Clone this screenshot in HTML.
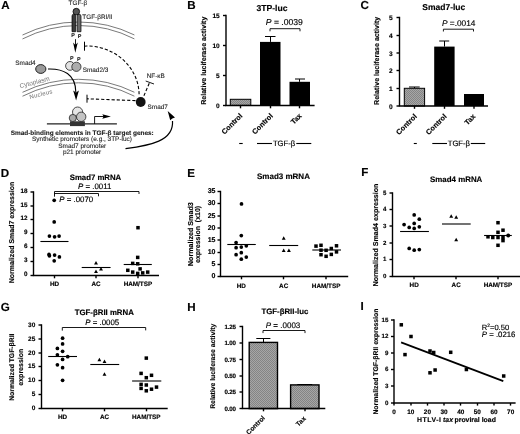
<!DOCTYPE html><html><head><meta charset="utf-8"><style>html,body{margin:0;padding:0;background:#fff;}svg{display:block;will-change:transform;font-family:"Liberation Sans",sans-serif;} text{stroke:#000;stroke-width:0.15px;} text[fill]{stroke:#8a8a8a;} .pa text{fill:#222;stroke:#222;stroke-width:0.1px;} .pa text[fill]{fill:#7a7a7a;stroke:#7a7a7a;stroke-width:0.2px;}</style></head><body>
<svg width="520" height="434" viewBox="0 0 520 434" font-family="Liberation Sans, sans-serif" text-rendering="geometricPrecision">
<defs><pattern id="hatch" width="2" height="2" patternUnits="userSpaceOnUse"><rect width="2" height="2" fill="#a6a6a6"/><rect width="1" height="1" fill="#848484"/><rect x="1" y="1" width="1" height="1" fill="#848484"/></pattern></defs>
<rect width="520" height="434" fill="#fff"/>
<text x="1.2" y="9.1" font-size="11.6" font-weight="bold" >A</text>
<text x="187.2" y="9.0" font-size="11.6" font-weight="bold" >B</text>
<text x="360.6" y="9.3" font-size="11.6" font-weight="bold" >C</text>
<text x="0.7" y="176.8" font-size="11.6" font-weight="bold" >D</text>
<text x="187.2" y="176.6" font-size="11.6" font-weight="bold" >E</text>
<text x="361.3" y="176.3" font-size="11.6" font-weight="bold" >F</text>
<text x="0.7" y="310.8" font-size="11.6" font-weight="bold" >G</text>
<text x="187.2" y="310.5" font-size="11.6" font-weight="bold" >H</text>
<text x="360.4" y="309.5" font-size="11.6" font-weight="bold" >I</text>
<g class="pa">
<path d="M22.5,35.01 A127.0,127.0 0 0 1 134.4,34.96" fill="none" stroke="#7a7a7a" stroke-width="1.0"/>
<path d="M22.5,38.93 A123.5,123.5 0 0 1 134.4,38.88" fill="none" stroke="#7a7a7a" stroke-width="1.0"/>
<path d="M22.5,92.31 A127.0,127.0 0 0 1 134.4,92.26" fill="none" stroke="#7a7a7a" stroke-width="1.0"/>
<path d="M22.5,96.23 A123.5,123.5 0 0 1 134.4,96.18" fill="none" stroke="#7a7a7a" stroke-width="1.0"/>
<path d="M72,31.7 V16 A1.8,1.8 0 0 1 75.6,16 V31.7 Z" fill="#3a3a3a" stroke="#000" stroke-width="0.7"/>
<path d="M77.1,31.7 V16.2 A1.95,1.95 0 0 1 81,16.2 V31.7 Z" fill="#6a6a6a" stroke="#000" stroke-width="0.7"/>
<circle cx="76.3" cy="11.6" r="3.3" fill="#555" stroke="#000" stroke-width="0.8"/>
<text x="68.6" y="5.2" font-size="6.4" >TGF-β</text>
<text x="82.3" y="18.5" font-size="6.4" >TGF-βRI/II</text>
<text x="71.2" y="36.9" font-size="5.4" font-weight="bold" >P</text>
<text x="77.8" y="37.6" font-size="5.4" font-weight="bold" >P</text>
<line x1="75.5" y1="39.2" x2="75.5" y2="45" stroke="#000" stroke-width="0.9" />
<path d="M73.1,42.6 L75.35,45 L77.8,42.6 L75.3,52.8 Z"/>
<line x1="84.5" y1="41.7" x2="84.5" y2="50.7" stroke="#000" stroke-width="1.0" />
<path d="M84.3,46.2 L86.7,46.0 A52.4,49 0 0 1 139.1,94.9" fill="none" stroke="#000" stroke-width="1.1" stroke-dasharray="3.2,2"/>
<text x="70" y="59.7" font-size="5.4" font-weight="bold" >P</text>
<text x="76.9" y="60.7" font-size="5.4" font-weight="bold" >P</text>
<circle cx="70" cy="65.9" r="4.4" fill="#e2e2e2" stroke="#222" stroke-width="0.8"/>
<circle cx="76.4" cy="66.8" r="4.6" fill="#acacac" stroke="#222" stroke-width="0.8"/>
<text x="82.7" y="71.8" font-size="6.4" >Smad2/3</text>
<text x="15.3" y="64.6" font-size="6.4" >Smad4</text>
<ellipse cx="40.8" cy="69" rx="5.1" ry="4.4" fill="#9a9a9a" stroke="#222" stroke-width="1"/>
<path d="M48,69 C63,68.5 75.6,74 75.8,92" fill="none" stroke="#000" stroke-width="1.1"/>
<path d="M73.2,90.6 L76,92.6 L78.9,90.6 L76.1,100.5 Z"/>
<text x="0" y="0" font-size="65" fill="#8a8a8a" transform="translate(20.3,88.2) rotate(-14.5) scale(0.1)">Cytoplasm</text>
<text x="0" y="0" font-size="60" letter-spacing="3" fill="#8a8a8a" transform="translate(29.9,98.9) rotate(-14) scale(0.1)">Nucleus</text>
<circle cx="140.7" cy="102" r="4.9" fill="#111"/>
<text x="147.6" y="108.7" font-size="6.4" >Smad7</text>
<text x="146.7" y="77.8" font-size="6.4" >NF-κB</text>
<path d="M143.9,95.8 L149.6,82.5" fill="none" stroke="#000" stroke-width="1.1" stroke-dasharray="3.2,2"/>
<line x1="145.7" y1="81.0" x2="154" y2="84.0" stroke="#000" stroke-width="0.9" />
<path d="M135.5,100.6 L87,98.8" fill="none" stroke="#000" stroke-width="1.1" stroke-dasharray="3.2,2"/>
<line x1="87.0" y1="94.7" x2="87.0" y2="102.7" stroke="#000" stroke-width="1.0" />
<line x1="46.9" y1="123.9" x2="116.9" y2="123.9" stroke="#222" stroke-width="1.1" />
<rect x="70" y="121.3" width="14.9" height="4.8" fill="#333"/>
<circle cx="77.6" cy="112.1" r="5.1" fill="#e6e6e6" stroke="#222" stroke-width="0.8"/>
<circle cx="72.8" cy="118" r="3.6" fill="#aaa" stroke="#222" stroke-width="0.8"/>
<circle cx="81.2" cy="116.8" r="4.7" fill="#c4c4c4" stroke="#222" stroke-width="0.8"/>
<path d="M94.6,123.9 V116.5 H104" fill="none" stroke="#000" stroke-width="0.9"/>
<path d="M102.3,114.2 L110.9,116.5 L102.3,118.8 L103.6,116.5 Z"/>
<text x="82.2" y="135.2" font-size="6.45" font-weight="bold" text-anchor="middle" >Smad-binding elements in TGF-β target genes:</text>
<text x="82" y="141.3" font-size="6.45" text-anchor="middle" >Synthetic promoters (e.g., 3TP-luc)</text>
<text x="82.2" y="147.5" font-size="6.45" text-anchor="middle" >Smad7 promoter</text>
<text x="82.1" y="153.6" font-size="6.45" text-anchor="middle" >p21 promoter</text>
<path d="M125.5,148.7 C150,145.5 174,141 172.5,121" fill="none" stroke="#000" stroke-width="1.2"/>
<path d="M167.7,111.1 L175,117.5 L172.3,118.5 L170.2,120.2 Z"/>
</g>
<text x="256.5" y="11.1" font-size="8.6" font-weight="bold" >3TP-luc</text>
<text x="265.8" y="25.3" font-size="8.6"><tspan font-style="italic">P</tspan> = .0039</text>
<path d="M270,31.3 V28.7 H300 V31.3" fill="none" stroke="#000" stroke-width="0.9"/>
<line x1="226.0" y1="14.8" x2="226.0" y2="105.5" stroke="#000" stroke-width="1.4" />
<line x1="223.0" y1="15.5" x2="226.0" y2="15.5" stroke="#000" stroke-width="1.4" />
<text x="219.7" y="18.07" font-size="6.5" font-weight="bold" text-anchor="end" >15</text>
<line x1="223.0" y1="45.5" x2="226.0" y2="45.5" stroke="#000" stroke-width="1.4" />
<text x="219.7" y="48.07" font-size="6.5" font-weight="bold" text-anchor="end" >10</text>
<line x1="223.0" y1="75.5" x2="226.0" y2="75.5" stroke="#000" stroke-width="1.4" />
<text x="219.7" y="78.08" font-size="6.5" font-weight="bold" text-anchor="end" >5</text>
<line x1="223.0" y1="105.5" x2="226.0" y2="105.5" stroke="#000" stroke-width="1.4" />
<text x="219.7" y="108.08" font-size="6.5" font-weight="bold" text-anchor="end" >0</text>
<rect x="230.3" y="99.3" width="20.5" height="6.1" fill="url(#hatch)" stroke="#000" stroke-width="1"/>
<rect x="260" y="41.9" width="20.5" height="63.5" fill="#000"/>
<line x1="270.5" y1="41.9" x2="270.5" y2="36.5" stroke="#000" stroke-width="1.0" />
<line x1="265" y1="36.5" x2="275.5" y2="36.5" stroke="#000" stroke-width="1.0" />
<rect x="289.5" y="81.8" width="20.5" height="23.6" fill="#000"/>
<line x1="299.5" y1="81.8" x2="299.5" y2="79.1" stroke="#000" stroke-width="1.0" />
<line x1="295" y1="79.0" x2="305" y2="79.0" stroke="#000" stroke-width="1.0" />
<line x1="225.3" y1="105.5" x2="314.6" y2="105.5" stroke="#000" stroke-width="1.4" />
<line x1="240.5" y1="105.5" x2="240.5" y2="108.3" stroke="#000" stroke-width="1.4" />
<line x1="270.5" y1="105.5" x2="270.5" y2="108.3" stroke="#000" stroke-width="1.4" />
<line x1="299.5" y1="105.5" x2="299.5" y2="108.3" stroke="#000" stroke-width="1.4" />
<text x="0" y="0" font-size="7.05" font-weight="bold" text-anchor="middle" transform="translate(206.3,60.7) rotate(-90)">Relative luciferase activity</text>
<text x="0" y="0" font-size="7.3" font-weight="bold" text-anchor="end" transform="translate(242.9,116.3) rotate(-45)">Control</text>
<text x="0" y="0" font-size="7.3" font-weight="bold" text-anchor="end" transform="translate(273.4,116.3) rotate(-45)">Control</text>
<text x="0" y="0" font-size="7.3" font-weight="bold" text-anchor="end" transform="translate(302.2,116.3) rotate(-45)">Tax</text>
<line x1="239.2" y1="143.5" x2="242.7" y2="143.5" stroke="#000" stroke-width="1.1" />
<line x1="257" y1="143.5" x2="272" y2="143.5" stroke="#000" stroke-width="1.1" />
<text x="272.9" y="145.6" font-size="7.7" >TGF-β</text>
<line x1="296.3" y1="143.5" x2="311.3" y2="143.5" stroke="#000" stroke-width="1.1" />
<text x="422.3" y="9.9" font-size="8.5" font-weight="bold" >Smad7-luc</text>
<text x="442" y="26.2" font-size="8.3"><tspan font-style="italic">P</tspan> =.0014</text>
<path d="M443.4,31.5 V29.2 H473.5 V31.5" fill="none" stroke="#000" stroke-width="0.9"/>
<line x1="399.5" y1="16.8" x2="399.5" y2="106.0" stroke="#000" stroke-width="1.4" />
<line x1="396.5" y1="17.5" x2="399.5" y2="17.5" stroke="#000" stroke-width="1.4" />
<text x="392.7" y="20.01" font-size="6.6" font-weight="bold" text-anchor="end" >5</text>
<line x1="396.5" y1="35.5" x2="399.5" y2="35.5" stroke="#000" stroke-width="1.4" />
<text x="392.7" y="38.01" font-size="6.6" font-weight="bold" text-anchor="end" >4</text>
<line x1="396.5" y1="53.0" x2="399.5" y2="53.0" stroke="#000" stroke-width="1.4" />
<text x="392.7" y="55.51" font-size="6.6" font-weight="bold" text-anchor="end" >3</text>
<line x1="396.5" y1="70.5" x2="399.5" y2="70.5" stroke="#000" stroke-width="1.4" />
<text x="392.7" y="73.01" font-size="6.6" font-weight="bold" text-anchor="end" >2</text>
<line x1="396.5" y1="88.5" x2="399.5" y2="88.5" stroke="#000" stroke-width="1.4" />
<text x="392.7" y="91.01" font-size="6.6" font-weight="bold" text-anchor="end" >1</text>
<line x1="396.5" y1="106.0" x2="399.5" y2="106.0" stroke="#000" stroke-width="1.4" />
<text x="392.7" y="108.51" font-size="6.6" font-weight="bold" text-anchor="end" >0</text>
<rect x="404.3" y="88.3" width="20.3" height="17.7" fill="url(#hatch)" stroke="#000" stroke-width="1"/>
<line x1="414.5" y1="88" x2="414.5" y2="87" stroke="#000" stroke-width="1.0" />
<line x1="409" y1="87.0" x2="419.7" y2="87.0" stroke="#000" stroke-width="1.0" />
<rect x="434.2" y="46.6" width="20.4" height="59.4" fill="#000"/>
<line x1="444.5" y1="46.6" x2="444.5" y2="41" stroke="#000" stroke-width="1.0" />
<line x1="439.2" y1="41.0" x2="449.2" y2="41.0" stroke="#000" stroke-width="1.0" />
<rect x="464" y="94" width="20" height="12" fill="#000"/>
<line x1="398.8" y1="106.0" x2="488" y2="106.0" stroke="#000" stroke-width="1.4" />
<line x1="414.5" y1="106.0" x2="414.5" y2="108.8" stroke="#000" stroke-width="1.4" />
<line x1="444.5" y1="106.0" x2="444.5" y2="108.8" stroke="#000" stroke-width="1.4" />
<line x1="474.0" y1="106.0" x2="474.0" y2="108.8" stroke="#000" stroke-width="1.4" />
<text x="0" y="0" font-size="7.05" font-weight="bold" text-anchor="middle" transform="translate(379.0,60.9) rotate(-90)">Relative luciferase activity</text>
<text x="0" y="0" font-size="7.3" font-weight="bold" text-anchor="end" transform="translate(417.4,116.9) rotate(-45)">Control</text>
<text x="0" y="0" font-size="7.3" font-weight="bold" text-anchor="end" transform="translate(447.2,116.9) rotate(-45)">Control</text>
<text x="0" y="0" font-size="7.3" font-weight="bold" text-anchor="end" transform="translate(476,116.9) rotate(-45)">Tax</text>
<line x1="413.8" y1="143.5" x2="416.8" y2="143.5" stroke="#000" stroke-width="1.1" />
<line x1="432.3" y1="143.5" x2="447" y2="143.5" stroke="#000" stroke-width="1.1" />
<text x="447.7" y="145.6" font-size="7.7" >TGF-β</text>
<line x1="470.8" y1="143.5" x2="485.2" y2="143.5" stroke="#000" stroke-width="1.1" />
<text x="69.7" y="180" font-size="7.8" font-weight="bold" >Smad7 mRNA</text>
<text x="78" y="188.5" font-size="7.9"><tspan font-style="italic">P</tspan> = .0011</text>
<path d="M54.5,194.3 V191.5 H139 V194" fill="none" stroke="#000" stroke-width="0.9"/>
<path d="M54.5,196.7 V193.5 H98.5 V196.3" fill="none" stroke="#000" stroke-width="0.9"/>
<text x="59.2" y="201.5" font-size="7.9"><tspan font-style="italic">P</tspan> = .0070</text>
<line x1="33.5" y1="191.3" x2="33.5" y2="275.5" stroke="#000" stroke-width="1.4" />
<line x1="30.5" y1="192.0" x2="33.5" y2="192.0" stroke="#000" stroke-width="1.4" />
<text x="27.4" y="192.91" font-size="6.3" font-weight="bold" text-anchor="end" >18</text>
<line x1="30.5" y1="206.0" x2="33.5" y2="206.0" stroke="#000" stroke-width="1.4" />
<text x="27.4" y="206.91" font-size="6.3" font-weight="bold" text-anchor="end" >15</text>
<line x1="30.5" y1="219.5" x2="33.5" y2="219.5" stroke="#000" stroke-width="1.4" />
<text x="27.4" y="220.41" font-size="6.3" font-weight="bold" text-anchor="end" >12</text>
<line x1="30.5" y1="233.5" x2="33.5" y2="233.5" stroke="#000" stroke-width="1.4" />
<text x="27.4" y="234.41" font-size="6.3" font-weight="bold" text-anchor="end" >9</text>
<line x1="30.5" y1="247.5" x2="33.5" y2="247.5" stroke="#000" stroke-width="1.4" />
<text x="27.4" y="248.41" font-size="6.3" font-weight="bold" text-anchor="end" >6</text>
<line x1="30.5" y1="261.5" x2="33.5" y2="261.5" stroke="#000" stroke-width="1.4" />
<text x="27.4" y="262.4" font-size="6.3" font-weight="bold" text-anchor="end" >3</text>
<line x1="30.5" y1="275.5" x2="33.5" y2="275.5" stroke="#000" stroke-width="1.4" />
<text x="27.4" y="276.4" font-size="6.3" font-weight="bold" text-anchor="end" >0</text>
<line x1="32.8" y1="275.5" x2="159" y2="275.5" stroke="#000" stroke-width="1.4" />
<line x1="54.5" y1="275.5" x2="54.5" y2="278.3" stroke="#000" stroke-width="1.4" />
<line x1="96.0" y1="275.5" x2="96.0" y2="278.3" stroke="#000" stroke-width="1.4" />
<line x1="138.0" y1="275.5" x2="138.0" y2="278.3" stroke="#000" stroke-width="1.4" />
<circle cx="54.2" cy="200.3" r="1.85"/>
<circle cx="54.2" cy="221.9" r="1.85"/>
<circle cx="49.4" cy="236.1" r="1.85"/>
<circle cx="54.6" cy="236.8" r="1.85"/>
<circle cx="59.1" cy="236.1" r="1.85"/>
<circle cx="49" cy="254.4" r="1.85"/>
<circle cx="49.4" cy="255.8" r="1.85"/>
<circle cx="54.6" cy="255.1" r="1.85"/>
<circle cx="59.4" cy="256.9" r="1.85"/>
<circle cx="54.2" cy="260.8" r="1.85"/>
<line x1="40.4" y1="241.5" x2="68.5" y2="241.5" stroke="#000" stroke-width="1.1" />
<path d="M94.05,264.45L97.95,264.45L96.00,260.94Z"/>
<path d="M99.05,270.56L102.95,270.56L101.00,267.05Z"/>
<path d="M94.05,273.06L97.95,273.06L96.00,269.55Z"/>
<line x1="81.7" y1="267.5" x2="110.6" y2="267.5" stroke="#000" stroke-width="1.1" />
<rect x="136.25" y="225.95" width="3.5" height="3.5"/>
<rect x="135.95" y="255.65" width="3.5" height="3.5"/>
<rect x="130.95" y="261.65" width="3.5" height="3.5"/>
<rect x="135.95" y="262.05" width="3.5" height="3.5"/>
<rect x="126.05" y="268.55" width="3.5" height="3.5"/>
<rect x="130.95" y="270.35" width="3.5" height="3.5"/>
<rect x="138.35" y="267.15" width="3.5" height="3.5"/>
<rect x="135.95" y="271.65" width="3.5" height="3.5"/>
<rect x="140.95" y="271.15" width="3.5" height="3.5"/>
<rect x="145.95" y="270.35" width="3.5" height="3.5"/>
<line x1="123.7" y1="264.5" x2="151.8" y2="264.5" stroke="#000" stroke-width="1.1" />
<text x="54.5" y="286" font-size="6.35" font-weight="bold" text-anchor="middle" >HD</text>
<text x="96" y="286" font-size="6.35" font-weight="bold" text-anchor="middle" >AC</text>
<text x="137.9" y="286" font-size="6.35" font-weight="bold" text-anchor="middle" >HAM/TSP</text>
<text x="0" y="0" font-size="7" font-weight="bold" text-anchor="middle" transform="translate(14.3,232.5) rotate(-90)">Normalized Smad7 expression</text>
<text x="257" y="179.1" font-size="8" font-weight="bold" >Smad3 mRNA</text>
<line x1="220.5" y1="190.8" x2="220.5" y2="276.5" stroke="#000" stroke-width="1.4" />
<line x1="217.5" y1="191.5" x2="220.5" y2="191.5" stroke="#000" stroke-width="1.4" />
<text x="215.5" y="193.45" font-size="7.0" font-weight="bold" text-anchor="end" >35</text>
<line x1="217.5" y1="203.5" x2="220.5" y2="203.5" stroke="#000" stroke-width="1.4" />
<text x="215.5" y="205.45" font-size="7.0" font-weight="bold" text-anchor="end" >30</text>
<line x1="217.5" y1="216.0" x2="220.5" y2="216.0" stroke="#000" stroke-width="1.4" />
<text x="215.5" y="217.95" font-size="7.0" font-weight="bold" text-anchor="end" >25</text>
<line x1="217.5" y1="228.0" x2="220.5" y2="228.0" stroke="#000" stroke-width="1.4" />
<text x="215.5" y="229.95" font-size="7.0" font-weight="bold" text-anchor="end" >20</text>
<line x1="217.5" y1="240.0" x2="220.5" y2="240.0" stroke="#000" stroke-width="1.4" />
<text x="215.5" y="241.95" font-size="7.0" font-weight="bold" text-anchor="end" >15</text>
<line x1="217.5" y1="252.5" x2="220.5" y2="252.5" stroke="#000" stroke-width="1.4" />
<text x="215.5" y="254.45" font-size="7.0" font-weight="bold" text-anchor="end" >10</text>
<line x1="217.5" y1="264.5" x2="220.5" y2="264.5" stroke="#000" stroke-width="1.4" />
<text x="215.5" y="266.45" font-size="7.0" font-weight="bold" text-anchor="end" >5</text>
<line x1="217.5" y1="276.5" x2="220.5" y2="276.5" stroke="#000" stroke-width="1.4" />
<text x="215.5" y="278.45" font-size="7.0" font-weight="bold" text-anchor="end" >0</text>
<line x1="219.8" y1="276.5" x2="348.2" y2="276.5" stroke="#000" stroke-width="1.4" />
<line x1="241.5" y1="276.5" x2="241.5" y2="279.3" stroke="#000" stroke-width="1.4" />
<line x1="283.5" y1="276.5" x2="283.5" y2="279.3" stroke="#000" stroke-width="1.4" />
<line x1="326.0" y1="276.5" x2="326.0" y2="279.3" stroke="#000" stroke-width="1.4" />
<circle cx="241.5" cy="203.9" r="1.85"/>
<circle cx="241.3" cy="235.6" r="1.85"/>
<circle cx="236.1" cy="242.6" r="1.85"/>
<circle cx="241.3" cy="247.1" r="1.85"/>
<circle cx="236.1" cy="247.7" r="1.85"/>
<circle cx="246.3" cy="245.8" r="1.85"/>
<circle cx="241.3" cy="252.7" r="1.85"/>
<circle cx="236.1" cy="254.7" r="1.85"/>
<circle cx="246.3" cy="257.1" r="1.85"/>
<circle cx="241.3" cy="259.2" r="1.85"/>
<line x1="227.3" y1="244.5" x2="255.8" y2="244.5" stroke="#000" stroke-width="1.1" />
<path d="M281.75,239.85L285.65,239.85L283.70,236.34Z"/>
<path d="M281.75,251.95L285.65,251.95L283.70,248.44Z"/>
<path d="M286.95,251.95L290.85,251.95L288.90,248.44Z"/>
<line x1="269.2" y1="245.5" x2="298.2" y2="245.5" stroke="#000" stroke-width="1.1" />
<rect x="314.25" y="244.35" width="3.5" height="3.5"/>
<rect x="319.25" y="243.55" width="3.5" height="3.5"/>
<rect x="319.25" y="248.45" width="3.5" height="3.5"/>
<rect x="324.35" y="248.55" width="3.5" height="3.5"/>
<rect x="329.55" y="246.75" width="3.5" height="3.5"/>
<rect x="334.75" y="244.05" width="3.5" height="3.5"/>
<rect x="334.75" y="250.15" width="3.5" height="3.5"/>
<rect x="319.25" y="252.95" width="3.5" height="3.5"/>
<rect x="324.35" y="254.55" width="3.5" height="3.5"/>
<rect x="329.55" y="252.65" width="3.5" height="3.5"/>
<line x1="312.3" y1="250.0" x2="341" y2="250.0" stroke="#000" stroke-width="1.1" />
<text x="241.3" y="287.7" font-size="6.35" font-weight="bold" text-anchor="middle" >HD</text>
<text x="283.7" y="287.7" font-size="6.35" font-weight="bold" text-anchor="middle" >AC</text>
<text x="326.1" y="287.7" font-size="6.35" font-weight="bold" text-anchor="middle" >HAM/TSP</text>
<text x="0" y="0" font-size="7.15" font-weight="bold" text-anchor="middle" transform="translate(193.4,234.2) rotate(-90)">Normalized Smad3</text>
<text x="0" y="0" font-size="7" font-weight="bold" text-anchor="middle" transform="translate(199.7,234.4) rotate(-90)">expression&#160;&#160;(x10)</text>
<text x="430.1" y="181.8" font-size="7.9" font-weight="bold" >Smad4 mRNA</text>
<line x1="392.5" y1="192.3" x2="392.5" y2="276.5" stroke="#000" stroke-width="1.4" />
<line x1="389.5" y1="193.0" x2="392.5" y2="193.0" stroke="#000" stroke-width="1.4" />
<text x="386.4" y="194.83" font-size="6.1" font-weight="bold" text-anchor="end" >5</text>
<line x1="389.5" y1="209.5" x2="392.5" y2="209.5" stroke="#000" stroke-width="1.4" />
<text x="386.4" y="211.33" font-size="6.1" font-weight="bold" text-anchor="end" >4</text>
<line x1="389.5" y1="226.0" x2="392.5" y2="226.0" stroke="#000" stroke-width="1.4" />
<text x="386.4" y="227.83" font-size="6.1" font-weight="bold" text-anchor="end" >3</text>
<line x1="389.5" y1="243.0" x2="392.5" y2="243.0" stroke="#000" stroke-width="1.4" />
<text x="386.4" y="244.83" font-size="6.1" font-weight="bold" text-anchor="end" >2</text>
<line x1="389.5" y1="259.5" x2="392.5" y2="259.5" stroke="#000" stroke-width="1.4" />
<text x="386.4" y="261.33" font-size="6.1" font-weight="bold" text-anchor="end" >1</text>
<line x1="389.5" y1="276.5" x2="392.5" y2="276.5" stroke="#000" stroke-width="1.4" />
<text x="386.4" y="278.33" font-size="6.1" font-weight="bold" text-anchor="end" >0</text>
<line x1="391.8" y1="276.5" x2="520" y2="276.5" stroke="#000" stroke-width="1.4" />
<line x1="414.0" y1="276.5" x2="414.0" y2="279.3" stroke="#000" stroke-width="1.4" />
<line x1="456.0" y1="276.5" x2="456.0" y2="279.3" stroke="#000" stroke-width="1.4" />
<line x1="498.0" y1="276.5" x2="498.0" y2="279.3" stroke="#000" stroke-width="1.4" />
<circle cx="414.2" cy="214.9" r="1.85"/>
<circle cx="419.3" cy="219.2" r="1.85"/>
<circle cx="404.1" cy="224.6" r="1.85"/>
<circle cx="414.2" cy="223.4" r="1.85"/>
<circle cx="409.2" cy="227.4" r="1.85"/>
<circle cx="419.3" cy="226.8" r="1.85"/>
<circle cx="414.2" cy="228.4" r="1.85"/>
<circle cx="409.2" cy="248.4" r="1.85"/>
<circle cx="414.2" cy="250.2" r="1.85"/>
<circle cx="419.3" cy="249.6" r="1.85"/>
<line x1="400.1" y1="231.5" x2="428.9" y2="231.5" stroke="#000" stroke-width="1.1" />
<path d="M449.25,217.75L453.15,217.75L451.20,214.25Z"/>
<path d="M454.25,218.75L458.15,218.75L456.20,215.25Z"/>
<path d="M454.25,241.16L458.15,241.16L456.20,237.65Z"/>
<line x1="442" y1="224.0" x2="470.7" y2="224.0" stroke="#000" stroke-width="1.1" />
<rect x="496.25" y="220.95" width="3.5" height="3.5"/>
<rect x="501.25" y="228.45" width="3.5" height="3.5"/>
<rect x="496.25" y="230.55" width="3.5" height="3.5"/>
<rect x="486.25" y="235.05" width="3.5" height="3.5"/>
<rect x="491.05" y="235.75" width="3.5" height="3.5"/>
<rect x="496.25" y="235.75" width="3.5" height="3.5"/>
<rect x="501.25" y="235.75" width="3.5" height="3.5"/>
<rect x="501.25" y="238.85" width="3.5" height="3.5"/>
<rect x="496.25" y="243.55" width="3.5" height="3.5"/>
<circle cx="508.2" cy="235.4" r="2.0"/>
<line x1="484.1" y1="235.5" x2="511.8" y2="235.5" stroke="#000" stroke-width="1.1" />
<text x="414.2" y="287.1" font-size="6.35" font-weight="bold" text-anchor="middle" >HD</text>
<text x="456.2" y="287.1" font-size="6.35" font-weight="bold" text-anchor="middle" >AC</text>
<text x="497.9" y="287.1" font-size="6.35" font-weight="bold" text-anchor="middle" >HAM/TSP</text>
<text x="0" y="0" font-size="7.1" font-weight="bold" text-anchor="middle" transform="translate(377.6,235.0) rotate(-90)">Normalized Smad4 expression</text>
<text x="74.7" y="314.5" font-size="7.84" font-weight="bold" >TGF-βRII mRNA</text>
<text x="85.2" y="325" font-size="7.9"><tspan font-style="italic">P</tspan> = .0005</text>
<path d="M62.3,330.6 V327.5 H145.7 V330.4" fill="none" stroke="#000" stroke-width="0.9"/>
<line x1="41.5" y1="324.3" x2="41.5" y2="408.5" stroke="#000" stroke-width="1.4" />
<line x1="38.5" y1="325.0" x2="41.5" y2="325.0" stroke="#000" stroke-width="1.4" />
<text x="35.3" y="326.88" font-size="6.5" font-weight="bold" text-anchor="end" >30</text>
<line x1="38.5" y1="339.0" x2="41.5" y2="339.0" stroke="#000" stroke-width="1.4" />
<text x="35.3" y="340.88" font-size="6.5" font-weight="bold" text-anchor="end" >25</text>
<line x1="38.5" y1="353.0" x2="41.5" y2="353.0" stroke="#000" stroke-width="1.4" />
<text x="35.3" y="354.88" font-size="6.5" font-weight="bold" text-anchor="end" >20</text>
<line x1="38.5" y1="366.5" x2="41.5" y2="366.5" stroke="#000" stroke-width="1.4" />
<text x="35.3" y="368.38" font-size="6.5" font-weight="bold" text-anchor="end" >15</text>
<line x1="38.5" y1="380.5" x2="41.5" y2="380.5" stroke="#000" stroke-width="1.4" />
<text x="35.3" y="382.38" font-size="6.5" font-weight="bold" text-anchor="end" >10</text>
<line x1="38.5" y1="394.5" x2="41.5" y2="394.5" stroke="#000" stroke-width="1.4" />
<text x="35.3" y="396.38" font-size="6.5" font-weight="bold" text-anchor="end" >5</text>
<line x1="38.5" y1="408.5" x2="41.5" y2="408.5" stroke="#000" stroke-width="1.4" />
<text x="35.3" y="410.38" font-size="6.5" font-weight="bold" text-anchor="end" >0</text>
<line x1="40.8" y1="408.5" x2="167.7" y2="408.5" stroke="#000" stroke-width="1.4" />
<line x1="62.5" y1="408.5" x2="62.5" y2="411.3" stroke="#000" stroke-width="1.4" />
<line x1="104.5" y1="408.5" x2="104.5" y2="411.3" stroke="#000" stroke-width="1.4" />
<line x1="146.5" y1="408.5" x2="146.5" y2="411.3" stroke="#000" stroke-width="1.4" />
<circle cx="62.6" cy="338.2" r="1.85"/>
<circle cx="62.6" cy="343.9" r="1.85"/>
<circle cx="57.4" cy="348.4" r="1.85"/>
<circle cx="62.6" cy="351.3" r="1.85"/>
<circle cx="57.4" cy="354.8" r="1.85"/>
<circle cx="67.7" cy="356.7" r="1.85"/>
<circle cx="62.6" cy="359.4" r="1.85"/>
<circle cx="57.4" cy="364.8" r="1.85"/>
<circle cx="62.6" cy="367.7" r="1.85"/>
<circle cx="62.6" cy="380.3" r="1.85"/>
<line x1="48.2" y1="356.5" x2="77" y2="356.5" stroke="#000" stroke-width="1.1" />
<path d="M97.45,361.15L101.35,361.15L99.40,357.64Z"/>
<path d="M102.55,363.06L106.45,363.06L104.50,359.55Z"/>
<path d="M102.55,375.65L106.45,375.65L104.50,372.14Z"/>
<line x1="90.3" y1="364.5" x2="119.2" y2="364.5" stroke="#000" stroke-width="1.1" />
<rect x="144.55" y="356.35" width="3.5" height="3.5"/>
<rect x="139.35" y="371.65" width="3.5" height="3.5"/>
<rect x="144.55" y="375.95" width="3.5" height="3.5"/>
<rect x="149.75" y="373.55" width="3.5" height="3.5"/>
<rect x="139.35" y="382.65" width="3.5" height="3.5"/>
<rect x="144.55" y="383.25" width="3.5" height="3.5"/>
<rect x="139.35" y="386.65" width="3.5" height="3.5"/>
<rect x="144.55" y="389.05" width="3.5" height="3.5"/>
<rect x="149.75" y="387.45" width="3.5" height="3.5"/>
<rect x="154.75" y="385.35" width="3.5" height="3.5"/>
<line x1="132.1" y1="381.0" x2="161.3" y2="381.0" stroke="#000" stroke-width="1.1" />
<text x="62.6" y="419.4" font-size="6.35" font-weight="bold" text-anchor="middle" >HD</text>
<text x="104.5" y="419.4" font-size="6.35" font-weight="bold" text-anchor="middle" >AC</text>
<text x="146.3" y="419.4" font-size="6.35" font-weight="bold" text-anchor="middle" >HAM/TSP</text>
<text x="0" y="0" font-size="6.8" font-weight="bold" text-anchor="middle" transform="translate(13.9,367.2) rotate(-90)">Normalized TGF-βRII</text>
<text x="0" y="0" font-size="7" font-weight="bold" text-anchor="middle" transform="translate(23.1,367.2) rotate(-90)">expression</text>
<text x="261.5" y="313.8" font-size="7.8" font-weight="bold" >TGF-βRII-luc</text>
<text x="265.8" y="327.7" font-size="8.0"><tspan font-style="italic">P</tspan> = .0003</text>
<path d="M263,333.1 V330.5 H305 V333.1" fill="none" stroke="#000" stroke-width="0.9"/>
<line x1="242.5" y1="325.8" x2="242.5" y2="408.5" stroke="#000" stroke-width="1.4" />
<line x1="239.5" y1="326.5" x2="242.5" y2="326.5" stroke="#000" stroke-width="1.4" />
<text x="235.9" y="328.87" font-size="6.2" font-weight="bold" text-anchor="end" letter-spacing="-0.15">1.25</text>
<line x1="239.5" y1="343.0" x2="242.5" y2="343.0" stroke="#000" stroke-width="1.4" />
<text x="235.9" y="345.37" font-size="6.2" font-weight="bold" text-anchor="end" letter-spacing="-0.15">1.00</text>
<line x1="239.5" y1="359.5" x2="242.5" y2="359.5" stroke="#000" stroke-width="1.4" />
<text x="235.9" y="361.87" font-size="6.2" font-weight="bold" text-anchor="end" letter-spacing="-0.15">0.75</text>
<line x1="239.5" y1="376.0" x2="242.5" y2="376.0" stroke="#000" stroke-width="1.4" />
<text x="235.9" y="378.37" font-size="6.2" font-weight="bold" text-anchor="end" letter-spacing="-0.15">0.50</text>
<line x1="239.5" y1="392.0" x2="242.5" y2="392.0" stroke="#000" stroke-width="1.4" />
<text x="235.9" y="394.37" font-size="6.2" font-weight="bold" text-anchor="end" letter-spacing="-0.15">0.25</text>
<line x1="239.5" y1="408.5" x2="242.5" y2="408.5" stroke="#000" stroke-width="1.4" />
<text x="235.9" y="410.87" font-size="6.2" font-weight="bold" text-anchor="end" letter-spacing="-0.15">0.00</text>
<rect x="249.2" y="342.4" width="28.3" height="66.2" fill="url(#hatch)" stroke="#000" stroke-width="1.4"/>
<line x1="263.5" y1="342.4" x2="263.5" y2="338.6" stroke="#000" stroke-width="1.0" />
<line x1="256.3" y1="338.5" x2="270.4" y2="338.5" stroke="#000" stroke-width="1.0" />
<rect x="290.6" y="384.9" width="28.4" height="23.7" fill="url(#hatch)" stroke="#000" stroke-width="1.4"/>
<line x1="297.3" y1="384.5" x2="312.2" y2="384.5" stroke="#000" stroke-width="1.0" />
<line x1="241.8" y1="408.5" x2="325.3" y2="408.5" stroke="#000" stroke-width="1.4" />
<line x1="263.5" y1="408.5" x2="263.5" y2="411.3" stroke="#000" stroke-width="1.4" />
<line x1="305.0" y1="408.5" x2="305.0" y2="411.3" stroke="#000" stroke-width="1.4" />
<text x="0" y="0" font-size="6.8" font-weight="bold" text-anchor="middle" transform="translate(214.6,366.3) rotate(-90)">Relative luciferase activity</text>
<text x="0" y="0" font-size="6.6" font-weight="bold" text-anchor="end" transform="translate(265.4,418.4) rotate(-45)">Control</text>
<text x="0" y="0" font-size="6.6" font-weight="bold" text-anchor="end" transform="translate(306.3,419.0) rotate(-45)">Tax</text>
<line x1="394.0" y1="319.3" x2="394.0" y2="403.0" stroke="#000" stroke-width="1.4" />
<line x1="391.0" y1="320.0" x2="394.0" y2="320.0" stroke="#000" stroke-width="1.4" />
<text x="388.4" y="321.57" font-size="6.2" font-weight="bold" text-anchor="end" >15</text>
<line x1="391.0" y1="336.5" x2="394.0" y2="336.5" stroke="#000" stroke-width="1.4" />
<text x="388.4" y="338.07" font-size="6.2" font-weight="bold" text-anchor="end" >12</text>
<line x1="391.0" y1="353.0" x2="394.0" y2="353.0" stroke="#000" stroke-width="1.4" />
<text x="388.4" y="354.57" font-size="6.2" font-weight="bold" text-anchor="end" >9</text>
<line x1="391.0" y1="369.5" x2="394.0" y2="369.5" stroke="#000" stroke-width="1.4" />
<text x="388.4" y="371.07" font-size="6.2" font-weight="bold" text-anchor="end" >6</text>
<line x1="391.0" y1="386.0" x2="394.0" y2="386.0" stroke="#000" stroke-width="1.4" />
<text x="388.4" y="387.57" font-size="6.2" font-weight="bold" text-anchor="end" >3</text>
<line x1="391.0" y1="403.0" x2="394.0" y2="403.0" stroke="#000" stroke-width="1.4" />
<text x="388.4" y="404.57" font-size="6.2" font-weight="bold" text-anchor="end" >0</text>
<line x1="393.4" y1="403.0" x2="515.6" y2="403.0" stroke="#000" stroke-width="1.4" />
<line x1="394.0" y1="403.0" x2="394.0" y2="405.6" stroke="#000" stroke-width="1.4" />
<text x="394.1" y="413.6" font-size="6.4" font-weight="bold" text-anchor="middle" >0</text>
<line x1="411.0" y1="403.0" x2="411.0" y2="405.6" stroke="#000" stroke-width="1.4" />
<text x="410.75" y="413.6" font-size="6.4" font-weight="bold" text-anchor="middle" >10</text>
<line x1="427.5" y1="403.0" x2="427.5" y2="405.6" stroke="#000" stroke-width="1.4" />
<text x="427.4" y="413.6" font-size="6.4" font-weight="bold" text-anchor="middle" >20</text>
<line x1="444.0" y1="403.0" x2="444.0" y2="405.6" stroke="#000" stroke-width="1.4" />
<text x="444.05" y="413.6" font-size="6.4" font-weight="bold" text-anchor="middle" >30</text>
<line x1="460.5" y1="403.0" x2="460.5" y2="405.6" stroke="#000" stroke-width="1.4" />
<text x="460.7" y="413.6" font-size="6.4" font-weight="bold" text-anchor="middle" >40</text>
<line x1="477.5" y1="403.0" x2="477.5" y2="405.6" stroke="#000" stroke-width="1.4" />
<text x="477.35" y="413.6" font-size="6.4" font-weight="bold" text-anchor="middle" >50</text>
<line x1="494.0" y1="403.0" x2="494.0" y2="405.6" stroke="#000" stroke-width="1.4" />
<text x="494.0" y="413.6" font-size="6.4" font-weight="bold" text-anchor="middle" >60</text>
<line x1="510.5" y1="403.0" x2="510.5" y2="405.6" stroke="#000" stroke-width="1.4" />
<text x="510.65" y="413.6" font-size="6.4" font-weight="bold" text-anchor="middle" >70</text>
<text y="422.3" font-size="6.9" font-weight="bold"><tspan x="416.9" letter-spacing="0.55">HTLV-I</tspan><tspan x="443.0" font-style="italic">tax</tspan><tspan x="454.5">proviral load</tspan></text>
<text x="0" y="0" font-size="6.86" font-weight="bold" text-anchor="middle" transform="translate(378.2,361.6) rotate(-90)">Normalized TGF-βRII expression</text>
<rect x="399.55" y="323.05" width="3.5" height="3.5"/>
<rect x="409.25" y="334.75" width="3.5" height="3.5"/>
<rect x="403.25" y="352.85" width="3.5" height="3.5"/>
<rect x="428.25" y="349.25" width="3.5" height="3.5"/>
<rect x="431.95" y="350.75" width="3.5" height="3.5"/>
<rect x="448.95" y="350.55" width="3.5" height="3.5"/>
<rect x="428.25" y="371.05" width="3.5" height="3.5"/>
<rect x="433.35" y="368.25" width="3.5" height="3.5"/>
<rect x="464.65" y="367.75" width="3.5" height="3.5"/>
<rect x="501.95" y="374.25" width="3.5" height="3.5"/>
<line x1="401.1" y1="342.4" x2="503.3" y2="381.1" stroke="#000" stroke-width="1.7" />
<text x="481.8" y="329.7" font-size="7.6">R<tspan font-size="4.8" dy="-2.9">2</tspan><tspan dy="2.9">=0.50</tspan></text>
<text x="481.8" y="337.3" font-size="7.8"><tspan font-style="italic">P</tspan> = .0216</text>
</svg></body></html>
